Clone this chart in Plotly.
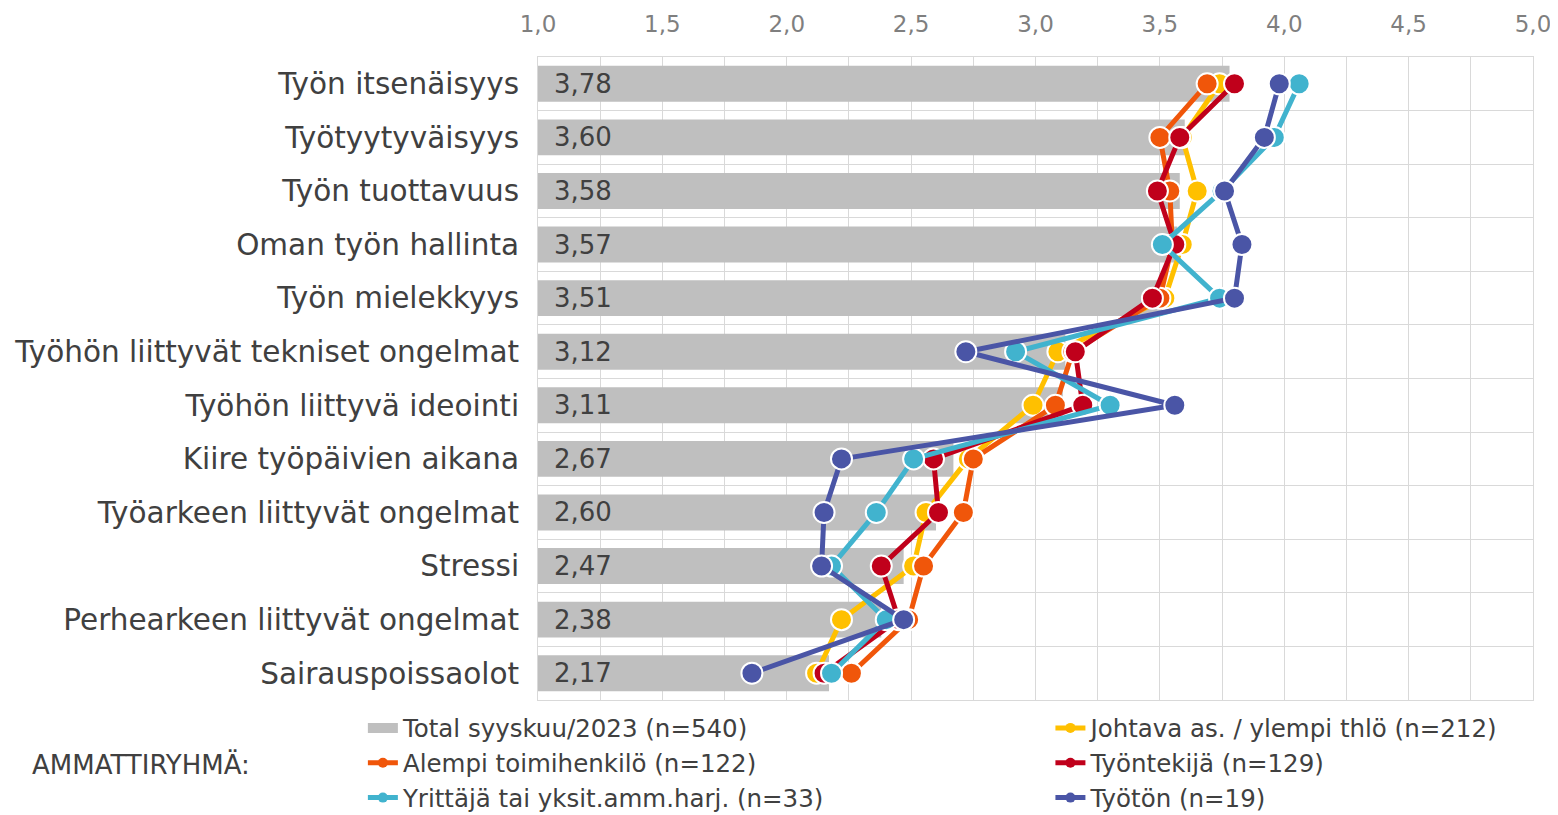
import plotly.graph_objects as go

categories = ["Työn itsenäisyys", "Työtyytyväisyys", "Työn tuottavuus", "Oman työn hallinta",
              "Työn mielekkyys", "Työhön liittyvät tekniset ongelmat", "Työhön liittyvä ideointi",
              "Kiire työpäivien aikana", "Työarkeen liittyvät ongelmat", "Stressi",
              "Perhearkeen liittyvät ongelmat", "Sairauspoissaolot"]

total = [3.78, 3.60, 3.58, 3.57, 3.51, 3.12, 3.11, 2.67, 2.60, 2.47, 2.38, 2.17]
johtava = [3.74, 3.59, 3.65, 3.59, 3.52, 3.09, 2.99, 2.73, 2.56, 2.51, 2.22, 2.12]
alempi = [3.69, 3.50, 3.54, 3.55, 3.50, 3.15, 3.08, 2.75, 2.71, 2.55, 2.49, 2.26]
tyontekija = [3.80, 3.58, 3.49, 3.56, 3.47, 3.16, 3.19, 2.59, 2.61, 2.38, 2.45, 2.15]
yrittaja = [4.06, 3.96, 3.75, 3.51, 3.74, 2.92, 3.30, 2.51, 2.36, 2.18, 2.40, 2.18]
tyoton = [3.98, 3.92, 3.76, 3.83, 3.80, 2.72, 3.56, 2.22, 2.15, 2.14, 2.47, 1.86]

total_name = "Total syyskuu/2023 (n=540)"
series = [
    ("Johtava as. / ylempi thlö (n=212)", johtava, "#FFC000", "legend2"),
    ("Alempi toimihenkilö (n=122)", alempi, "#F0560A", "legend"),
    ("Työntekijä (n=129)", tyontekija, "#C0001B", "legend2"),
    ("Yrittäjä tai yksit.amm.harj. (n=33)", yrittaja, "#41B3CE", "legend"),
    ("Työtön (n=19)", tyoton, "#4A55A6", "legend2"),
]

AXIS_MIN, AXIS_MAX = 1.0, 5.0
FONT = "DejaVu Sans"
BAR_COLOR = "#BFBFBF"

fig = go.Figure()
fig.add_trace(go.Bar(
    y=categories, x=[t - AXIS_MIN for t in total], base=[AXIS_MIN] * len(total),
    orientation="h", marker=dict(color=BAR_COLOR, line=dict(width=0)),
    customdata=total, texttemplate="\u2002%{customdata:.2f}", textposition="inside",
    insidetextanchor="start", constraintext="none",
    insidetextfont=dict(size=26, color="#404040", family=FONT),
    name=total_name, showlegend=False, hoverinfo="skip",
))

for name, vals, col, lg in series:
    fig.add_trace(go.Scatter(
        y=categories, x=vals, mode="lines+markers", name=name, showlegend=False,
        line=dict(color=col, width=5),
        marker=dict(size=21, color=col, line=dict(color="white", width=2)),
    ))

# legend entries
fig.add_trace(go.Scatter(y=[None], x=[None], mode="lines", name=total_name, legend="legend",
                         line=dict(color=BAR_COLOR, width=15), showlegend=True))
for name, vals, col, lg in series:
    fig.add_trace(go.Scatter(
        y=[None], x=[None], mode="lines+markers", name=name, showlegend=True, legend=lg,
        line=dict(color=col, width=5), marker=dict(size=10, color=col),
    ))

legend_common = dict(orientation="v", yanchor="top", xanchor="left", traceorder="normal",
                     font=dict(size=24.5, color="#404040", family=FONT),
                     bgcolor="rgba(0,0,0,0)", tracegroupgap=0)

fig.update_layout(
    width=1550, height=807,
    margin=dict(l=530, r=25, t=49, b=115, autoexpand=False),
    plot_bgcolor="white", paper_bgcolor="white",
    separators=", ",
    bargap=0.33,
    font=dict(family=FONT, color="#404040"),
    xaxis=dict(range=[AXIS_MIN, AXIS_MAX], side="top", dtick=0.5, tick0=1, tickformat=".1f",
               showgrid=True, gridcolor="#D9D9D9", gridwidth=1, zeroline=False,
               minor=dict(dtick=0.25, showgrid=True, gridcolor="#D9D9D9"),
               showline=True, linecolor="#D9D9D9", mirror=True,
               tickfont=dict(size=23, color="#7F7F7F", family=FONT), ticks="",
               ticklabelstandoff=15),
    yaxis=dict(type="category", range=[len(categories) - 0.5, -0.5], tickson="boundaries",
               showgrid=True, gridcolor="#D9D9D9", showline=True, linecolor="#D9D9D9", mirror=True,
               tickfont=dict(size=29.5, color="#404040", family=FONT), ticks="",
               ticklabelstandoff=12),
    legend=dict(x=-0.176, y=-0.0085, **legend_common),
    legend2=dict(x=0.515, y=-0.0085, **legend_common),
    annotations=[dict(text="AMMATTIRYHMÄ:", xref="paper", yref="paper", x=-0.5106, y=-0.101,
                      xanchor="left", yanchor="middle", showarrow=False,
                      font=dict(size=26, color="#404040", family=FONT))],
)

fig.write_html("out.html")
